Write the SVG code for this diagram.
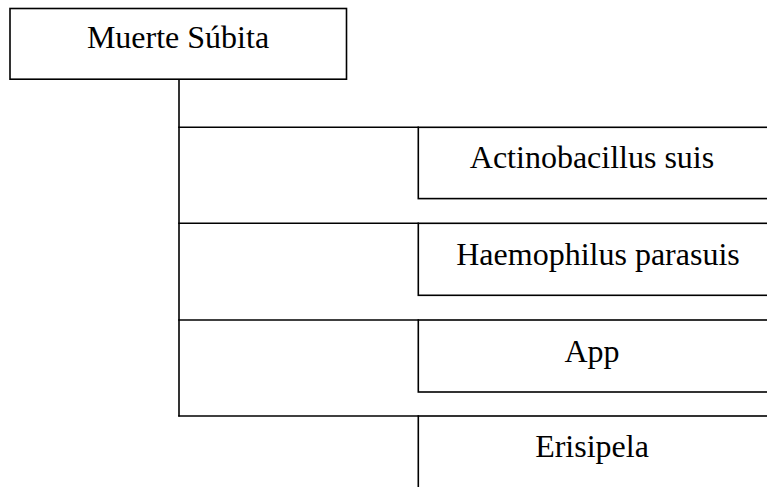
<svg xmlns="http://www.w3.org/2000/svg" width="767" height="487" viewBox="0 0 767 487">
<style>
.box{fill:#fff;stroke:#000;stroke-width:1.6}
.conn{stroke:#000;stroke-width:1.6;fill:none}
text{font-family:"Liberation Serif","Times New Roman",serif;font-size:32px;fill:#000;text-anchor:middle}
</style>
<rect width="767" height="487" fill="#fff"/>
<g id="connectors">
<line class="conn" x1="179" y1="79" x2="179" y2="416.5"/>
<line class="conn" x1="178.2" y1="127.3" x2="419" y2="127.3"/>
<line class="conn" x1="178.2" y1="223.3" x2="419" y2="223.3"/>
<line class="conn" x1="178.2" y1="320" x2="419" y2="320"/>
<line class="conn" x1="178.2" y1="416" x2="419" y2="416"/>
</g>
<g id="n0"><rect class="box" x="10" y="8.5" width="336.5" height="70.7"/><text x="178" y="48">Muerte Súbita</text></g>
<g id="n1"><rect class="box" x="418.3" y="127.3" width="360" height="71.3"/><text x="592" y="168">Actinobacillus suis</text></g>
<g id="n2"><rect class="box" x="418.3" y="223.3" width="360" height="72"/><text x="598" y="265">Haemophilus parasuis</text></g>
<g id="n3"><rect class="box" x="418.3" y="320" width="360" height="72"/><text x="592" y="362">App</text></g>
<g id="n4"><rect class="box" x="418.3" y="416" width="360" height="100"/><text x="592" y="457">Erisipela</text></g>
</svg>
